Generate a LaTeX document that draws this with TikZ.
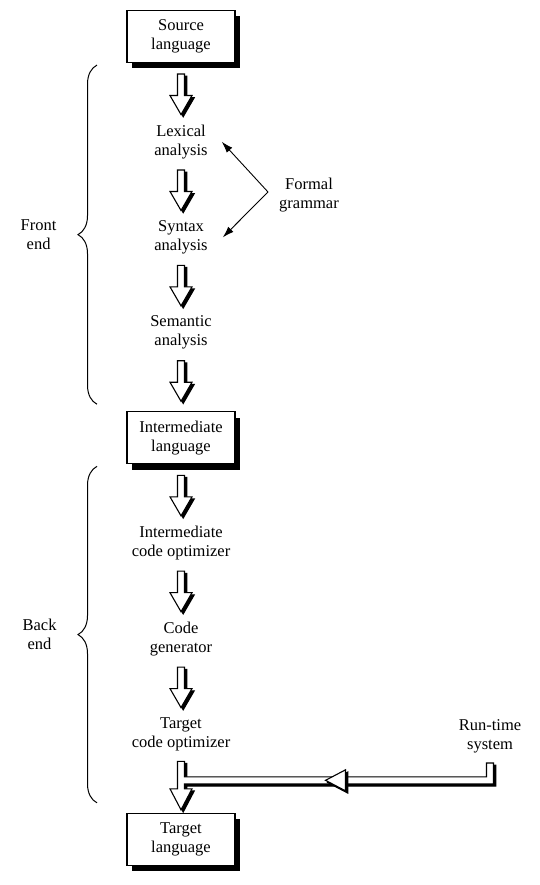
\documentclass[tikz,border=0pt]{standalone}
\usepackage{fontspec}
\setmainfont{Liberation Serif}
\usetikzlibrary{arrows.meta,positioning,calc,shadows,decorations.pathreplacing}
\newcommand\phasefont{\fontsize{16.5}{19}\selectfont}
\tikzset{
  langbox/.style={draw=black, line width=1.1pt, fill=white, align=center, minimum width=108pt, minimum height=52pt, inner sep=2pt, font=\phasefont, drop shadow={shadow xshift=5pt, shadow yshift=-6pt, fill=black, opacity=1}},
  phase/.style={align=center, inner sep=0pt, font=\phasefont},
  sidelabel/.style={align=center, inner sep=0pt, font=\phasefont},
  thinarrow/.style={-{Latex[length=4mm, width=2.6mm]}, line width=0.9pt},
  curly/.style={decorate, decoration={brace, amplitude=19pt}, line width=1pt},
  blockbody/.style={fill=white, draw=black, line width=1.1pt},
  blockshade/.style={fill=black, draw=black, line width=1.1pt, transform canvas={shift={(2.2pt,-2.2pt)}}}
}
% hollow block arrow between two stacked nodes
\newcommand\blockdown[2]{%
  \foreach \sty in {blockshade,blockbody}{%
    \path[\sty] let \p1=(#1.south), \p2=(#2.north) in
      (\x1-3.5pt,\y1-11pt) -- (\x1-3.5pt,\y2+29pt) -- (\x1-11pt,\y2+29pt)
      -- (\x1,\y2+10pt) -- (\x1+11pt,\y2+29pt) -- (\x1+3.5pt,\y2+29pt)
      -- (\x1+3.5pt,\y1-11pt) -- cycle;}}

\begin{document}
\begin{tikzpicture}[x=1pt, y=1pt, node distance=61.5pt]
  \useasboundingbox (0,0) rectangle (540,-885);
  \node[langbox] (src) at (181,-36.5) {Source\\language};
  \node[phase, below=of src] (lex) {Lexical\\analysis};
  \node[phase, below=of lex] (syn) {Syntax\\analysis};
  \node[phase, below=of syn] (sem) {Semantic\\analysis};
  \node[langbox, below=of sem] (inter) {Intermediate\\language};
  \node[phase, below=of inter] (ico) {Intermediate\\code optimizer};
  \node[phase, below=of ico] (cgen) {Code\\generator};
  \node[phase, below=of cgen] (tco) {Target\\code optimizer};
  \node[langbox, below=of tco] (tgt) {Target\\language};
  \node[sidelabel] (fg) at (309,-195) {Formal\\grammar};
  \node[sidelabel] (rts) at (490,-736) {Run-time\\system};
  \coordinate (fork) at (268,-192);
  \coordinate (brx) at (97,0);

  \blockdown{src}{lex}
  \blockdown{lex}{syn}
  \blockdown{syn}{sem}
  \blockdown{sem}{inter}
  \blockdown{inter}{ico}
  \blockdown{ico}{cgen}
  \blockdown{cgen}{tco}

  % last step: target optimizer and run-time system feed the target language
  \foreach \sty in {blockshade,blockbody}{%
    \path[\sty] let \p1=(tco.south), \p2=(tgt.north), \p3=(rts.south) in
      (\x1-3.5pt,\y1-10pt) -- (\x1-3.5pt,\y2+24pt) -- (\x1-11pt,\y2+24pt)
      -- (\x1,\y2+3pt) -- (\x1+11pt,\y2+24pt) -- (\x1+3.5pt,\y2+24pt)
      -- (\x1+3.5pt,\y2+29pt) -- (\x3+3.5pt,\y2+29pt) -- (\x3+3.5pt,\y3-10pt)
      -- (\x3-3.5pt,\y3-10pt) -- (\x3-3.5pt,\y2+36pt) -- (\x1+3.5pt,\y2+36pt)
      -- (\x1+3.5pt,\y1-10pt) -- cycle;}
  \foreach \sty in {blockshade,blockbody}{%
    \path[\sty] let \p2=(tgt.north), \p4=($(tco.south)!0.5!(rts.south)$) in
      (\x4-10pt,\y2+32.5pt) -- (\x4+10pt,\y2+43pt) -- (\x4+10pt,\y2+22pt) -- cycle;}

  \draw[thinarrow] (fork) -- ([xshift=14pt]lex.east);
  \draw[thinarrow] (fork) -- ([xshift=15pt]syn.east);

  \draw[curly] ($(inter.north -| brx)+(0,7pt)$) -- ($(src.south -| brx)+(0,-2pt)$)
    node[midway, left=40pt, sidelabel] (fe) {Front\\end};
  \draw[curly] ($(tgt.north -| brx)+(0,10pt)$) -- ($(inter.south -| brx)+(0,-2pt)$)
    node[midway, left=40pt, sidelabel] (be) {Back\\end};
\end{tikzpicture}
\end{document}
